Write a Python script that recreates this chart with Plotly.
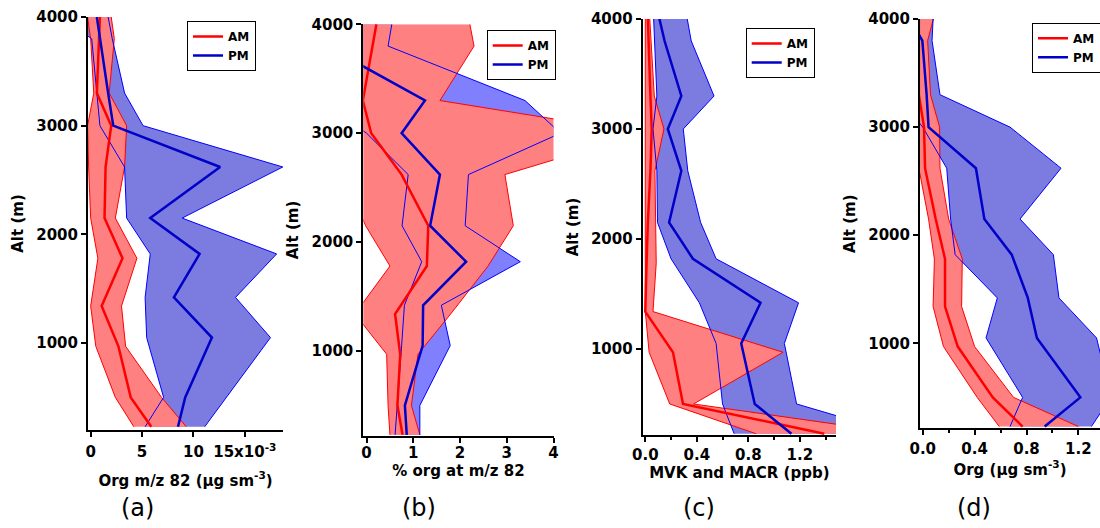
import plotly.graph_objects as go

# ---------------- data ----------------
alt_am = [230, 500, 970, 1340, 1780, 2150, 2620, 3000, 3300, 3800, 4000]
alt_pm = [230, 500, 1050, 1420, 1820, 2150, 2620, 3000, 3300, 3800, 4000]

# (a) Org m/z 82 (x1e-3 ug sm-3)
a_am_mean = [5.9, 3.9, 2.7, 1.07, 3.1, 1.35, 1.45, 2.0, 0.6, 0.8, 0.9]
a_am_lo = [4.2, 2.4, 0.5, 0.0, 0.7, 0.0, -0.2, -0.3, 0.3, 0.0, -0.3]
a_am_hi = [9.3, 6.9, 3.4, 3.0, 4.5, 2.4, 3.3, 3.5, 1.8, 2.3, 2.0]
a_pm_mean = [8.5, 9.2, 11.8, 8.1, 10.6, 5.8, 12.6, 2.2, 1.7, 0.9, 0.6]
a_pm_lo = [5.3, 7.1, 5.45, 5.3, 5.8, 3.5, 3.3, 0.9, 0.6, 0.1, -3.0]
a_pm_hi = [11.1, 13.2, 17.5, 14.1, 18.1, 8.9, 18.7, 5.1, 3.3, 2.1, 1.7]

# (b) % org at m/z 82
b_am_mean = [0.77, 0.66, 0.72, 0.61, 1.29, 1.32, 0.75, 0.1, -0.08, 0.12, 0.21]
b_am_lo = [0.5, 0.46, 0.43, -0.25, 0.5, -0.02, -0.5, -0.5, -1.0, -1.0, -1.0]
b_am_hi = [1.14, 0.96, 1.1, 1.8, 2.6, 3.14, 2.96, 5.9, 1.57, 2.3, 2.21]
b_pm_mean = [0.86, 0.82, 1.2, 1.21, 2.13, 1.36, 1.57, 0.75, 1.25, -0.86, -1.0]
b_pm_lo = [0.61, 0.66, 0.75, 0.81, 1.18, 0.76, 0.89, 0.0, -1.0, -1.0, -1.0]
b_pm_hi = [1.14, 1.14, 1.79, 1.6, 3.29, 2.11, 2.18, 4.15, 3.39, 0.46, 0.54]

# (c) MVK and MACR (ppb)
c_am_mean = [1.39, 0.293, 0.215, 0.0, 0.01, 0.02, 0.04, 0.05, 0.04, 0.025, 0.02]
c_am_lo = [0.86, 0.19, 0.03, 0.0, 0.0, 0.0, 0.0, 0.0, 0.0, 0.0, 0.0]
c_am_hi = [2.0, 0.375, 1.07, 0.06, 0.085, 0.08, 0.075, 0.145, 0.07, 0.045, 0.035]
c_pm_mean = [1.135, 0.85, 0.745, 0.895, 0.37, 0.185, 0.28, 0.175, 0.28, 0.15, 0.11]
c_pm_lo = [0.69, 0.6, 0.55, 0.42, 0.2, 0.095, 0.09, 0.06, 0.09, 0.075, 0.065]
c_pm_hi = [1.96, 1.175, 1.08, 1.19, 0.55, 0.43, 0.33, 0.295, 0.534, 0.357, 0.326]

# (d) Org (ug sm-3)
d_am_mean = [0.77, 0.54, 0.27, 0.172, 0.172, 0.1, 0.018, 0.01, -0.03, -0.03, -0.03]
d_am_lo = [0.59, 0.42, 0.16, 0.08, 0.09, 0.045, -0.03, -0.03, -0.03, -0.03, -0.03]
d_am_hi = [1.2, 0.7, 0.4, 0.3, 0.305, 0.2, 0.133, 0.13, 0.06, 0.038, 0.082]
d_pm_mean = [0.94, 1.215, 0.88, 0.81, 0.686, 0.475, 0.41, 0.045, 0.03, -0.003, -0.1]
d_pm_lo = [0.673, 0.77, 0.488, 0.575, 0.25, 0.215, 0.185, 0.0, -0.2, -0.2, -0.2]
d_pm_hi = [1.3, 1.45, 1.34, 1.05, 1.007, 0.75, 1.066, 0.673, 0.133, 0.072, 0.08]

x_titles = ["Org m/z 82 (\u03bcg sm<sup>-3</sup>)", "% org at m/z 82",
            "MVK and MACR (ppb)", "Org (\u03bcg sm<sup>-3</sup>)"]
panel_labels = ["(a)", "(b)", "(c)", "(d)"]
a_tickvals = [0, 5, 10, 15]
a_ticktext = ["0", "5", "10", "15x10<sup>-3</sup>"]
b_tickvals = [0, 1, 2, 3, 4]
c_tickvals = [0.0, 0.4, 0.8, 1.2]
d_tickvals = [0.0, 0.4, 0.8, 1.2]
y_tickvals = [1000, 2000, 3000, 4000]

# ---------------- styling / layout ----------------
W, H = 1100, 528
RED = "#FF0000"
RED_FILL = "#FF8080"
BLUE_LINE = "#0000FF"
BLUE_MEAN = "#0000C8"
BLUE_FILLS = ["#7B7BE0", "#8080FF", "#7B7BE0", "#7B7BE0"]

panels = [
    dict(am=(a_am_mean, a_am_lo, a_am_hi), pm=(a_pm_mean, a_pm_lo, a_pm_hi),
         px=(88, 283), py=(17, 430), xr=[-0.26, 18.72], yr=[200, 4000],
         leg=(187, 21), lab=(137, 508), xst=15, tls=2,
         tv=a_tickvals, tt=a_ticktext, minor=None),
    dict(am=(b_am_mean, b_am_lo, b_am_hi), pm=(b_pm_mean, b_pm_lo, b_pm_hi),
         px=(363.3, 553.5), py=(24.3, 435.7), xr=[-0.07, 4.0], yr=[222, 4000],
         leg=(486.7, 30), lab=(419, 508), xst=1, tls=-3,
         tv=b_tickvals, tt=[str(v) for v in b_tickvals], minor=None),
    dict(am=(c_am_mean, c_am_lo, c_am_hi), pm=(c_pm_mean, c_pm_lo, c_pm_hi),
         px=(642.7, 836), py=(19, 435), xr=[-0.02, 1.481], yr=[218, 4000],
         leg=(745.7, 28), lab=(699, 508), xst=2, tls=0,
         tv=c_tickvals, tt=["%.1f" % v for v in c_tickvals], minor=0.2),
    dict(am=(d_am_mean, d_am_lo, d_am_hi), pm=(d_pm_mean, d_pm_lo, d_pm_hi),
         px=(920, 1100), py=(19, 428.3), xr=[-0.021, 1.3665], yr=[214, 4000],
         leg=(1032, 22.7), lab=(974, 508), xst=0, tls=1,
         tv=d_tickvals, tt=["%.1f" % v for v in d_tickvals], minor=0.2),
]

bold15 = dict(family="DejaVu Sans", size=15, color="black", weight="bold")

fig = go.Figure()
layout = dict(width=W, height=H, margin=dict(l=0, r=0, t=0, b=0, autoexpand=False),
              paper_bgcolor="white", plot_bgcolor="white", annotations=[])

for i, p in enumerate(panels):
    sfx = "" if i == 0 else str(i + 1)
    xa, ya, leg = "x" + sfx, "y" + sfx, "legend" + sfx
    am_mean, am_lo, am_hi = p["am"]
    pm_mean, pm_lo, pm_hi = p["pm"]
    common = dict(xaxis=xa, yaxis=ya, hoverinfo="skip")
    # fills (blue under red)
    fig.add_trace(go.Scatter(x=list(pm_lo) + list(pm_hi)[::-1], y=alt_pm + alt_pm[::-1],
                             fill="toself", fillcolor=BLUE_FILLS[i], mode="lines",
                             line=dict(width=0, color=BLUE_FILLS[i]), showlegend=False, **common))
    fig.add_trace(go.Scatter(x=list(am_lo) + list(am_hi)[::-1], y=alt_am + alt_am[::-1],
                             fill="toself", fillcolor=RED_FILL, mode="lines",
                             line=dict(width=0, color=RED_FILL), showlegend=False, **common))
    # thin bounds
    for xs in (am_lo, am_hi):
        fig.add_trace(go.Scatter(x=xs, y=alt_am, mode="lines", line=dict(color=RED, width=1),
                                 showlegend=False, **common))
    for xs in (pm_lo, pm_hi):
        fig.add_trace(go.Scatter(x=xs, y=alt_pm, mode="lines", line=dict(color=BLUE_LINE, width=1),
                                 showlegend=False, **common))
    # means
    fig.add_trace(go.Scatter(x=am_mean, y=alt_am, mode="lines", name="AM",
                             line=dict(color=RED, width=2.5), legend=leg, **common))
    fig.add_trace(go.Scatter(x=pm_mean, y=alt_pm, mode="lines", name="PM",
                             line=dict(color=BLUE_MEAN, width=2.5), legend=leg, **common))

    x0, x1 = p["px"]
    yt, yb = p["py"]
    xax = dict(domain=[x0 / W, x1 / W], range=p["xr"], anchor=ya,
               showline=True, linecolor="black", linewidth=2, mirror=False,
               ticks="outside", ticklen=5, tickwidth=2, tickcolor="black",
               tickmode="array", tickvals=p["tv"], ticktext=p["tt"],
               ticklabelstandoff=p["tls"], tickangle=0,
               showgrid=False, zeroline=False, tickfont=bold15,
               title=dict(text=x_titles[i], font=bold15, standoff=p["xst"]))
    if p["minor"]:
        xax["minor"] = dict(dtick=p["minor"], tick0=0, ticks="outside", ticklen=3,
                            tickwidth=1.5, tickcolor="black", showgrid=False)
    yax = dict(domain=[1 - yb / H, 1 - yt / H], range=p["yr"], anchor=xa,
               showline=True, linecolor="black", linewidth=2, mirror=False,
               ticks="outside", ticklen=5, tickwidth=2, tickcolor="black",
               tickmode="array", tickvals=y_tickvals,
               showgrid=False, zeroline=False, tickfont=bold15,
               title=dict(text="Alt (m)", font=bold15, standoff=9))
    layout["xaxis" + sfx] = xax
    layout["yaxis" + sfx] = yax
    lx, ly = p["leg"]
    layout[leg] = dict(x=lx / W, y=1 - ly / H, xanchor="left", yanchor="top",
                       bgcolor="white", bordercolor="black", borderwidth=1,
                       font=dict(family="DejaVu Sans", size=12, color="black", weight="bold"),
                       tracegroupgap=0, itemwidth=30)
    cx, cy = p["lab"]
    layout["annotations"].append(dict(text=panel_labels[i], x=cx / W, y=1 - cy / H,
                                      xref="paper", yref="paper", showarrow=False,
                                      xanchor="center", yanchor="middle",
                                      font=dict(family="DejaVu Sans", size=24, color="black")))

fig.update_layout(**layout)
fig.write_html("out.html")
